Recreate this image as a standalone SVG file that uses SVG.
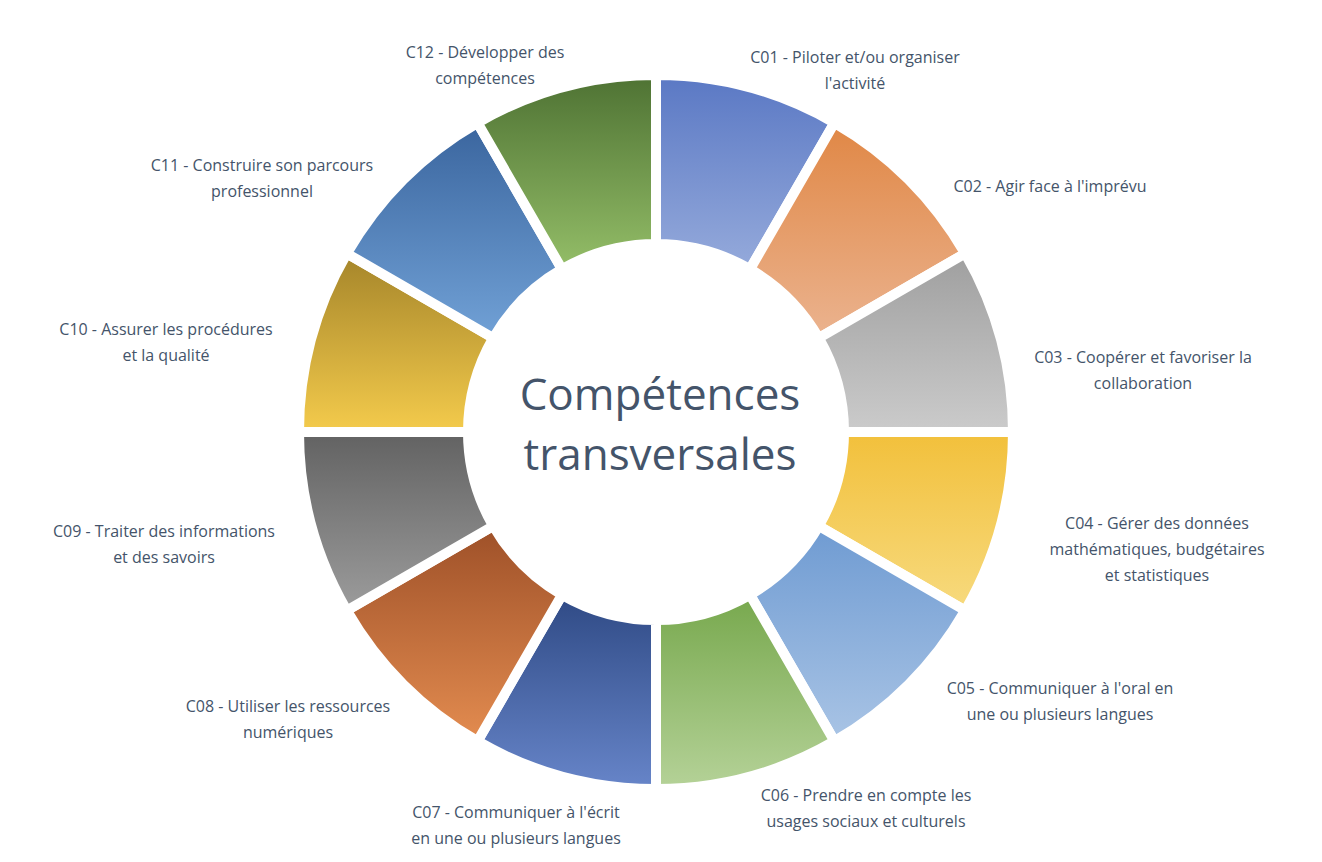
<svg xmlns="http://www.w3.org/2000/svg" width="1322" height="862" viewBox="0 0 1322 862">
<style>
.seg{stroke:#fff;stroke-width:10;stroke-linejoin:miter}
.lbl{font-family:"Open Sans",sans-serif;font-size:16px;fill:#44546a;text-anchor:middle}
.ctr{font-family:"Open Sans",sans-serif;font-size:44px;fill:#44546a;text-anchor:middle}
</style>
<defs>
<linearGradient id="g1" x1="0" y1="0" x2="0" y2="1"><stop offset="0" stop-color="#5a78c4"/><stop offset="1" stop-color="#95aadb"/></linearGradient>
<linearGradient id="g2" x1="0" y1="0" x2="0" y2="1"><stop offset="0" stop-color="#e08745"/><stop offset="1" stop-color="#ebb38f"/></linearGradient>
<linearGradient id="g3" x1="0" y1="0" x2="0" y2="1"><stop offset="0" stop-color="#9f9f9f"/><stop offset="1" stop-color="#cbcbcb"/></linearGradient>
<linearGradient id="g4" x1="0" y1="0" x2="0" y2="1"><stop offset="0" stop-color="#f2c03b"/><stop offset="1" stop-color="#f7da7e"/></linearGradient>
<linearGradient id="g5" x1="0" y1="0" x2="0" y2="1"><stop offset="0" stop-color="#6f9bd2"/><stop offset="1" stop-color="#a9c4e5"/></linearGradient>
<linearGradient id="g6" x1="0" y1="0" x2="0" y2="1"><stop offset="0" stop-color="#77a84d"/><stop offset="1" stop-color="#b5d298"/></linearGradient>
<linearGradient id="g7" x1="0" y1="0" x2="0" y2="1"><stop offset="0" stop-color="#2f4a85"/><stop offset="1" stop-color="#6785c9"/></linearGradient>
<linearGradient id="g8" x1="0" y1="0" x2="0" y2="1"><stop offset="0" stop-color="#9e5028"/><stop offset="1" stop-color="#e38c50"/></linearGradient>
<linearGradient id="g9" x1="0" y1="0" x2="0" y2="1"><stop offset="0" stop-color="#626262"/><stop offset="1" stop-color="#9c9c9c"/></linearGradient>
<linearGradient id="g10" x1="0" y1="0" x2="0" y2="1"><stop offset="0" stop-color="#a5852a"/><stop offset="1" stop-color="#f4cb4c"/></linearGradient>
<linearGradient id="g11" x1="0" y1="0" x2="0" y2="1"><stop offset="0" stop-color="#3a659e"/><stop offset="1" stop-color="#71a1d6"/></linearGradient>
<linearGradient id="g12" x1="0" y1="0" x2="0" y2="1"><stop offset="0" stop-color="#4e7233"/><stop offset="1" stop-color="#94be68"/></linearGradient>
</defs>
<rect width="1322" height="862" fill="#fff"/>
<g id="C01"><path class="seg" fill="url(#g1)" d="M656,75 A357,357 0 0 1 834.5,122.8 L750,269.2 A188,188 0 0 0 656,244 Z"/><text class="lbl" x="855" y="63">C01 - Piloter et/ou organiser</text><text class="lbl" x="855" y="89">l'activité</text></g>
<g id="C02"><path class="seg" fill="url(#g2)" d="M834.5,122.8 A357,357 0 0 1 965.2,253.5 L818.8,338 A188,188 0 0 0 750,269.2 Z"/><text class="lbl" x="1050" y="192">C02 - Agir face à l'imprévu</text></g>
<g id="C03"><path class="seg" fill="url(#g3)" d="M965.2,253.5 A357,357 0 0 1 1013,432 L844,432 A188,188 0 0 0 818.8,338 Z"/><text class="lbl" x="1143" y="363">C03 - Coopérer et favoriser la</text><text class="lbl" x="1143" y="389">collaboration</text></g>
<g id="C04"><path class="seg" fill="url(#g4)" d="M1013,432 A357,357 0 0 1 965.2,610.5 L818.8,526 A188,188 0 0 0 844,432 Z"/><text class="lbl" x="1157" y="529">C04 - Gérer des données</text><text class="lbl" x="1157" y="555">mathématiques, budgétaires</text><text class="lbl" x="1157" y="581">et statistiques</text></g>
<g id="C05"><path class="seg" fill="url(#g5)" d="M965.2,610.5 A357,357 0 0 1 834.5,741.2 L750,594.8 A188,188 0 0 0 818.8,526 Z"/><text class="lbl" x="1060" y="694">C05 - Communiquer à l'oral en</text><text class="lbl" x="1060" y="720">une ou plusieurs langues</text></g>
<g id="C06"><path class="seg" fill="url(#g6)" d="M834.5,741.2 A357,357 0 0 1 656,789 L656,620 A188,188 0 0 0 750,594.8 Z"/><text class="lbl" x="866" y="801">C06 - Prendre en compte les</text><text class="lbl" x="866" y="827">usages sociaux et culturels</text></g>
<g id="C07"><path class="seg" fill="url(#g7)" d="M656,789 A357,357 0 0 1 477.5,741.2 L562,594.8 A188,188 0 0 0 656,620 Z"/><text class="lbl" x="516" y="818">C07 - Communiquer à l'écrit</text><text class="lbl" x="516" y="844">en une ou plusieurs langues</text></g>
<g id="C08"><path class="seg" fill="url(#g8)" d="M477.5,741.2 A357,357 0 0 1 346.8,610.5 L493.2,526 A188,188 0 0 0 562,594.8 Z"/><text class="lbl" x="288" y="712">C08 - Utiliser les ressources</text><text class="lbl" x="288" y="738">numériques</text></g>
<g id="C09"><path class="seg" fill="url(#g9)" d="M346.8,610.5 A357,357 0 0 1 299,432 L468,432 A188,188 0 0 0 493.2,526 Z"/><text class="lbl" x="164" y="537">C09 - Traiter des informations</text><text class="lbl" x="164" y="563">et des savoirs</text></g>
<g id="C10"><path class="seg" fill="url(#g10)" d="M299,432 A357,357 0 0 1 346.8,253.5 L493.2,338 A188,188 0 0 0 468,432 Z"/><text class="lbl" x="166" y="335">C10 - Assurer les procédures</text><text class="lbl" x="166" y="361">et la qualité</text></g>
<g id="C11"><path class="seg" fill="url(#g11)" d="M346.8,253.5 A357,357 0 0 1 477.5,122.8 L562,269.2 A188,188 0 0 0 493.2,338 Z"/><text class="lbl" x="262" y="171">C11 - Construire son parcours</text><text class="lbl" x="262" y="197">professionnel</text></g>
<g id="C12"><path class="seg" fill="url(#g12)" d="M477.5,122.8 A357,357 0 0 1 656,75 L656,244 A188,188 0 0 0 562,269.2 Z"/><text class="lbl" x="485" y="58">C12 - Développer des</text><text class="lbl" x="485" y="84">compétences</text></g>
<g id="center"><text class="ctr" x="660" y="410">Compétences</text><text class="ctr" x="660" y="470">transversales</text></g>
<g id="connectors"/>
</svg>
